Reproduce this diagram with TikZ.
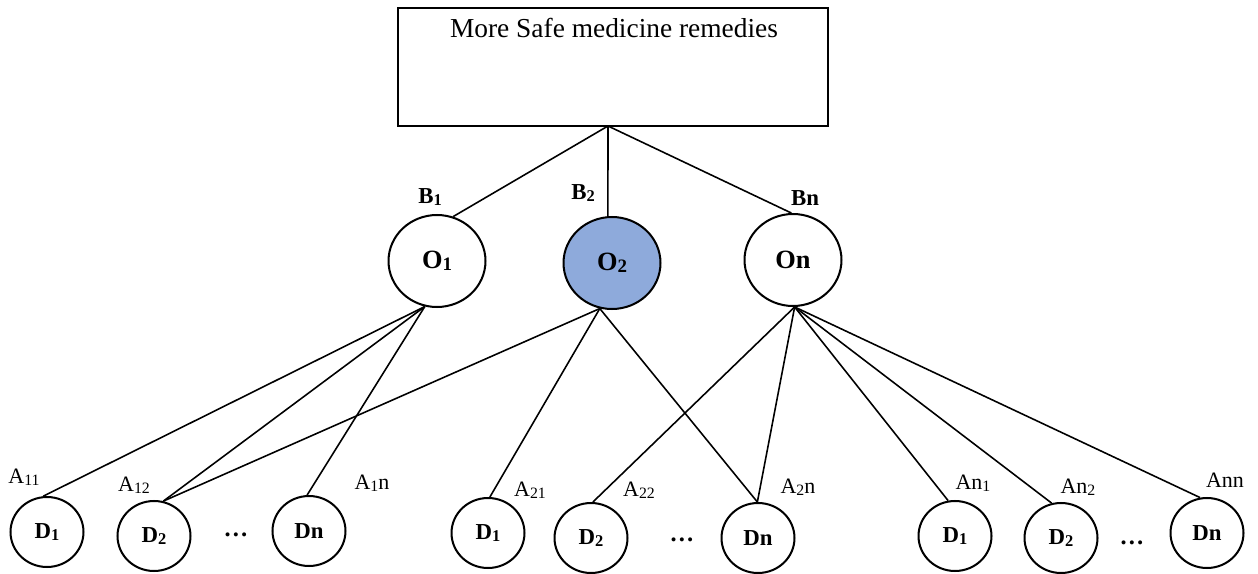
\documentclass[tikz,border=0pt]{standalone}
\usepackage{fontspec}
\setmainfont{Liberation Serif}
\usetikzlibrary{shapes.geometric}
\definecolor{optfill}{RGB}{142,170,219}
\newcommand\ix[1]{\raisebox{-.15ex}{\scalebox{.72}{#1}}}

\begin{document}
\begin{tikzpicture}[x=0.02cm,y=-0.02cm,
 goalbox/.style={draw,line width=1.4pt,minimum width=8.6cm,minimum height=2.36cm,inner sep=0pt},
 opt/.style={draw,ellipse,line width=1.15pt,minimum width=1.94cm,minimum height=1.84cm,inner sep=0pt,font=\fontsize{15}{18}\selectfont\bfseries},
 drug/.style={draw,ellipse,line width=1.15pt,minimum width=1.46cm,minimum height=1.4cm,inner sep=0pt,font=\fontsize{13}{15}\selectfont\bfseries},
 blab/.style={font=\fontsize{13}{15}\selectfont\bfseries,inner sep=1pt},
 alab/.style={font=\fontsize{12.5}{15}\selectfont,inner sep=1pt},
 more/.style={font=\fontsize{14}{16}\selectfont\bfseries,inner sep=1pt},
 link/.style={line width=0.9pt}]
\useasboundingbox (0,0) rectangle (1258,574);

\node[goalbox] (goal) at (613,67) {};
\node[font=\fontsize{15.6}{18}\selectfont] (goaltxt) at (614,28) {More Safe medicine remedies};
\coordinate (apex) at (608,126);

\node[opt] (o1) at (437,261) {O\ix{1}};
\node[opt,fill=optfill] (o2) at (612,263) {O\ix{2}};
\node[opt] (on) at (793,260) {On};
\node[blab] (b1) at (430,197) {B\ix{1}};
\node[blab] (b2) at (583,193) {B\ix{2}};
\node[blab] (bn) at (805,198) {Bn};

\node[drug] (d11) at (47,532) {D\ix{1}};
\node[drug] (d12) at (154,536) {D\ix{2}};
\node[drug] (d1n) at (309,531) {Dn};
\node[more] (dots1) at (236,535) {\dots};
\node[drug] (d21) at (488,533) {D\ix{1}};
\node[drug] (d22) at (591,538) {D\ix{2}};
\node[drug] (d2n) at (758,538) {Dn};
\node[more] (dots2) at (682,540) {\dots};
\node[drug] (dn1) at (955,536) {D\ix{1}};
\node[drug] (dn2) at (1061,538) {D\ix{2}};
\node[drug] (dnn) at (1207,533) {Dn};
\node[more] (dots3) at (1132,543) {\dots};

\node[alab] (a11) at (24,477) {A\ix{11}};
\node[alab] (a12) at (134,485) {A\ix{12}};
\node[alab] (a1n) at (372,483) {A\ix{1}n};
\node[alab] (a21) at (530,490) {A\ix{21}};
\node[alab] (a22) at (639,490) {A\ix{22}};
\node[alab] (a2n) at (798,487) {A\ix{2}n};
\node[alab] (an1) at (973,483) {An\ix{1}};
\node[alab] (an2) at (1078,487) {An\ix{2}};
\node[alab] (ann) at (1225,480) {Ann};

\draw[link] (apex) -- (o1.70);
\draw[link] (apex) -- (o2.95);
\draw[link] (apex) -- (on.92);

\draw[link] (o1.-105) -- (d11.96);
\draw[link] (o1.-105) -- (d12.75);
\draw[link] (o1.-105) -- (d1n.93);
\draw[link] (o2.-105) -- (d12.75);
\draw[link] (o2.-105) -- (d21.87);
\draw[link] (o2.-105) -- (d2n.91);
\draw[link] (on.-88) -- (d22.87);
\draw[link] (on.-88) -- (d2n.91);
\draw[link] (on.-88) -- (dn1.101);
\draw[link] (on.-88) -- (dn2.105);
\draw[link] (on.-88) -- (dnn.101);
\end{tikzpicture}
\end{document}
